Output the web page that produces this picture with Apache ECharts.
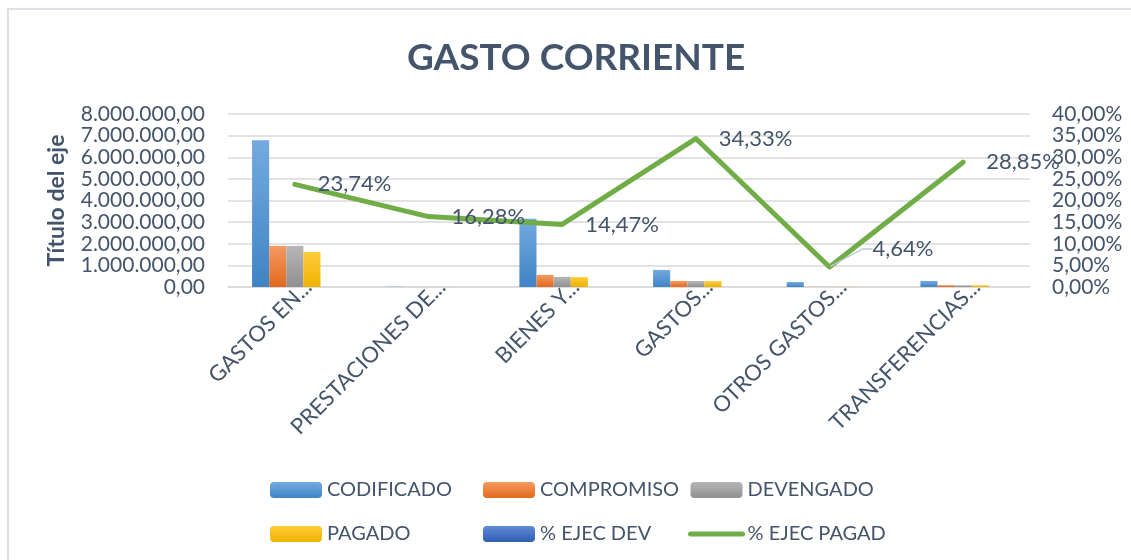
<!DOCTYPE html>
<html>
<head>
<meta charset="utf-8">
<title>GASTO CORRIENTE</title>
<script src="https://cdn.jsdelivr.net/npm/echarts@6/dist/echarts.min.js"></script>
<style>
  html, body { margin: 0; padding: 0; background: #fff; }
  #chart { width: 1131px; height: 560px; }
</style>
</head>
<body>
<div id="chart"></div>
<script>
  // datos
  var categorias = ['GASTOS EN...', 'PRESTACIONES DE...', 'BIENES Y...', 'GASTOS...', 'OTROS GASTOS...', 'TRANSFERENCIAS...'];
  var codificado = [6790000, 15000, 3160000, 790000, 230000, 280000];
  var compromiso = [1900000, 2500, 560000, 280000, 11000, 85000];
  var devengado = [1900000, 2450, 470000, 275000, 11000, 81000];
  var pagado = [1620000, 2440, 457000, 271000, 10700, 80800];
  var ejecDev = [0.28, 0.16, 0.15, 0.35, 0.05, 0.29];
  var ejecPagad = [0.2374, 0.1628, 0.1447, 0.3433, 0.0464, 0.2885];
  var ticksIzq = ['0,00', '1.000.000,00', '2.000.000,00', '3.000.000,00', '4.000.000,00', '5.000.000,00', '6.000.000,00', '7.000.000,00', '8.000.000,00'];
  var ticksDer = ['0,00%', '5,00%', '10,00%', '15,00%', '20,00%', '25,00%', '30,00%', '35,00%', '40,00%'];

  var texto = '#44546A';
  var verde = '#70AD47';
  var fuente = 'Lato';

  function degradado(arriba, abajo) {
    return new echarts.graphic.LinearGradient(0, 0, 0, 1, [
      { offset: 0, color: arriba },
      { offset: 1, color: abajo }
    ]);
  }

  function pct(v) {
    return (v * 100).toFixed(2).replace('.', ',') + '%';
  }

  // una leyenda por columna, dos filas cada una
  function columnaLeyenda(left, items) {
    return {
      data: items,
      orient: 'vertical',
      left: left,
      top: 478,
      padding: 0,
      itemWidth: 52,
      itemHeight: 16,
      itemGap: 20,
      textStyle: { color: texto, fontSize: 20, lineHeight: 24, fontFamily: fuente }
    };
  }

  // solo la etiqueta 4,64% lleva linea guia
  var datosPagad = ejecPagad.map(function (v, i) {
    return i === 4 ? { value: v, labelLine: { show: true } } : v;
  });

  var chart = echarts.init(document.getElementById('chart'));

  chart.setOption({
    backgroundColor: '#fff',
    textStyle: { fontFamily: fuente },
    title: {
      text: 'GASTO CORRIENTE',
      left: 402,
      top: 35,
      textStyle: { color: texto, fontSize: 37, fontWeight: 'bold', fontFamily: fuente }
    },
    graphic: [{
      type: 'rect',
      shape: { x: 8, y: 9, width: 1200, height: 600 },
      style: { fill: 'none', stroke: '#DDE1E6', lineWidth: 2 },
      silent: true
    }],
    legend: [
      columnaLeyenda(270, ['CODIFICADO', 'PAGADO']),
      columnaLeyenda(483, ['COMPROMISO', '% EJEC DEV']),
      columnaLeyenda(688, ['DEVENGADO', {
        name: '% EJEC PAGAD',
        itemStyle: { opacity: 0 },
        lineStyle: { color: verde, width: 5, cap: 'round' }
      }])
    ],
    grid: {
      left: 228,
      right: 101,
      top: 114,
      bottom: 273
    },
    xAxis: {
      type: 'category',
      data: categorias,
      axisLine: { lineStyle: { color: '#D9D9D9', width: 1.5 } },
      axisTick: { show: false },
      axisLabel: {
        interval: 0,
        rotate: 45,
        margin: 10,
        padding: [28, -19, 0, 0],
        color: texto,
        fontSize: 22,
        fontFamily: fuente
      }
    },
    yAxis: [{
      type: 'value',
      min: 0,
      max: 8000000,
      interval: 1000000,
      name: 'Título del eje',
      nameLocation: 'middle',
      nameGap: 160,
      nameTextStyle: { color: texto, fontSize: 23, fontWeight: 'bold', fontFamily: fuente },
      axisLine: { show: false },
      axisTick: { show: false },
      splitLine: { lineStyle: { color: '#D9D9D9', width: 1.5 } },
      axisLabel: {
        margin: 23,
        showMinLabel: true,
        showMaxLabel: true,
        color: texto,
        fontSize: 21,
        fontFamily: fuente,
        formatter: function (v) { return ticksIzq[Math.round(v / 1000000)]; }
      }
    }, {
      type: 'value',
      min: 0,
      max: 0.4,
      interval: 0.05,
      axisLine: { show: false },
      axisTick: { show: false },
      splitLine: { show: false },
      axisLabel: {
        margin: 22,
        showMinLabel: true,
        showMaxLabel: true,
        color: texto,
        fontSize: 21,
        fontFamily: fuente,
        formatter: function (v) { return ticksDer[Math.round(v / 0.05)]; }
      }
    }],
    series: [
      {
        name: 'CODIFICADO',
        type: 'bar',
        barGap: 0,
        barCategoryGap: '36%',
        data: codificado,
        itemStyle: { color: degradado('#74AADF', '#3F84C6') }
      },
      {
        name: 'COMPROMISO',
        type: 'bar',
        data: compromiso,
        itemStyle: { color: degradado('#F49A62', '#E2691C') }
      },
      {
        name: 'DEVENGADO',
        type: 'bar',
        data: devengado,
        itemStyle: { color: degradado('#B7B7B7', '#8F8F8F') }
      },
      {
        name: 'PAGADO',
        type: 'bar',
        data: pagado,
        itemStyle: { color: degradado('#FFCB3C', '#EEB200') }
      },
      {
        name: '% EJEC DEV',
        type: 'bar',
        data: ejecDev,
        itemStyle: { color: degradado('#5F8BD4', '#2E5CB4') }
      },
      {
        name: '% EJEC PAGAD',
        type: 'line',
        yAxisIndex: 1,
        data: datosPagad,
        symbol: 'circle',
        symbolSize: 2,
        showSymbol: true,
        z: 5,
        itemStyle: { color: 'rgba(0,0,0,0)' },
        lineStyle: { color: verde, width: 5, cap: 'round', join: 'round' },
        label: {
          show: true,
          position: 'right',
          distance: 22,
          offset: [0, 2],
          color: texto,
          fontSize: 22,
          fontFamily: fuente,
          formatter: function (p) { return pct(p.value); }
        },
        labelLine: {
          show: false,
          length2: 10,
          lineStyle: { color: '#BFC7D2', width: 1.5 }
        },
        labelLayout: function (p) {
          if (p.dataIndex === 4) {
            return { dx: 20, dy: -18 };
          }
          return {};
        }
      }
    ]
  });
</script>
</body>
</html>
